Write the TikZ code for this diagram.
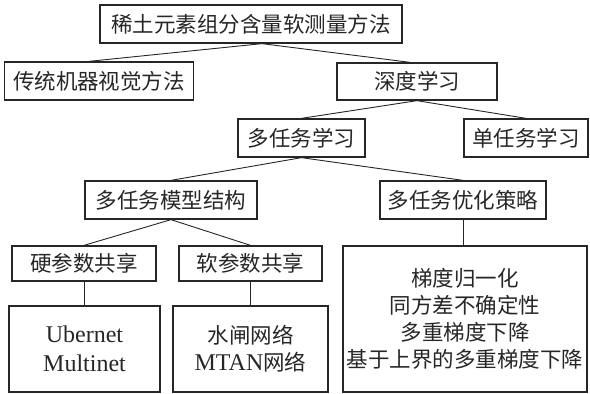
\documentclass[tikz,border=0pt]{standalone}
\usepackage{fontspec}
\setmainfont{Liberation Serif}
\newfontfamily\cjk{Noto Sans CJK SC}
\newcommand{\lat}{\rmfamily}
\begin{document}
\begin{tikzpicture}[x=1pt,y=-1pt]
\tikzset{
  bx/.style={draw=black!85, line width=1.3pt, inner sep=0pt, text=black!85,
    font=\cjk\fontsize{21.5}{27}\selectfont, align=center},
  ln/.style={draw=black!85, line width=0.9pt}
}
\useasboundingbox (0,0) rectangle (590,394);
% boxes: center (x,y), width, height
\node[bx, minimum width=302pt, minimum height=38pt] (root) at (251,24) {稀土元素组分含量软测量方法};
\node[bx, minimum width=189pt, minimum height=38pt] (trad) at (99,81) {传统机器视觉方法};
\node[bx, minimum width=160pt, minimum height=37pt] (deep) at (417,81.5) {深度学习};
\node[bx, minimum width=127pt, minimum height=38pt] (multi) at (301.5,138) {多任务学习};
\node[bx, minimum width=124pt, minimum height=38pt] (single) at (526,138) {单任务学习};
\node[bx, minimum width=172pt, minimum height=38pt] (struct) at (171,200) {多任务模型结构};
\node[bx, minimum width=166pt, minimum height=38pt] (optim) at (463,200) {多任务优化策略};
\node[bx, minimum width=144pt, minimum height=35pt] (hard) at (84,263.5) {硬参数共享};
\node[bx, minimum width=143pt, minimum height=35pt] (soft) at (250.5,263.5) {软参数共享};
\node[bx, minimum width=151pt, minimum height=86pt, font=\lat\fontsize{24}{29}\selectfont] (uber) at (84.5,349) {Ubernet\\Multinet};
\node[bx, minimum width=155pt, minimum height=86pt] (sluice) at (250.5,349) {水闸网络\\{\lat\fontsize{24}{29}\selectfont MTAN}网络};
\node[bx, minimum width=244pt, minimum height=146pt] (methods) at (465,319) {梯度归一化\\同方差不确定性\\多重梯度下降\\基于上界的多重梯度下降};
% connectors
\draw[ln] ([xshift=11pt]root.south) -- ([xshift=-10pt]trad.north);
\draw[ln] ([xshift=11pt]root.south) -- ([xshift=-7pt]deep.north);
\draw[ln] (deep.south) -- (multi.north);
\draw[ln] (deep.south) -- (single.north);
\draw[ln] (multi.south) -- (struct.north);
\draw[ln] (multi.south) -- (optim.north);
\draw[ln] (struct.south) -- (hard.north);
\draw[ln] (struct.south) -- (soft.north);
\draw[ln] (hard.south) -- (hard.south |- uber.north);
\draw[ln] (soft.south) -- (soft.south |- sluice.north);
\draw[ln] (optim.south) -- (optim.south |- methods.north);
\end{tikzpicture}
\end{document}
